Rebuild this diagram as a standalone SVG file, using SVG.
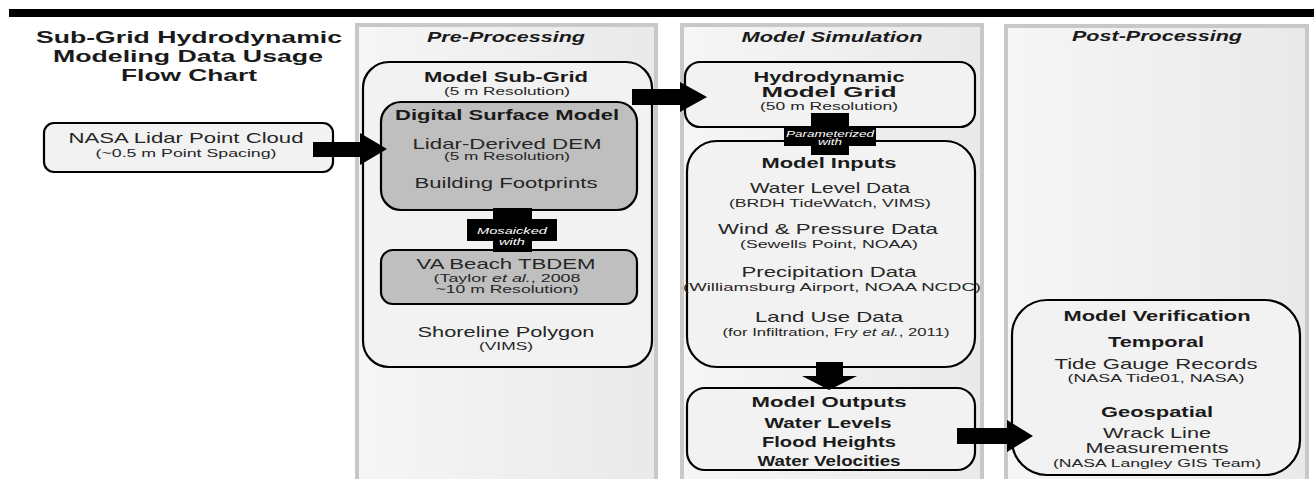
<svg xmlns="http://www.w3.org/2000/svg" width="1314" height="479" viewBox="0 0 1314 479">
<defs>
<linearGradient id="pg" x1="0" y1="0" x2="1" y2="0">
<stop offset="0" stop-color="#f6f6f6"/>
<stop offset="1" stop-color="#e9e9e9"/>
</linearGradient>
<style>
.panel{fill:url(#pg);stroke:#c8c8c8;stroke-width:4}
.box{fill:#f2f2f2;stroke:#000;stroke-width:2.2}
.gbox{fill:#bfbfbf;stroke:#000;stroke-width:2.2}
.t{font-family:"Liberation Sans",Arial,sans-serif;fill:#262626;text-anchor:middle}
.ti{font-size:16.5px;font-weight:bold;fill:#1a1a1a}
.hd{font-size:14px;font-weight:bold;font-style:italic;fill:#1a1a1a}
.bt{font-size:14px;font-weight:bold;fill:#1a1a1a}
.it{font-size:14.5px}
.sm{font-size:11.5px}
.cx{font-size:9px;font-style:italic;fill:#fff}
.arr{fill:#000}
</style>
</defs>
<rect x="9" y="9" width="1305" height="8" fill="#000"/>
<g id="title">
<text class="t ti" x="189" y="43" textLength="306" lengthAdjust="spacingAndGlyphs">Sub-Grid Hydrodynamic</text>
<text class="t ti" x="188" y="62" textLength="270" lengthAdjust="spacingAndGlyphs">Modeling Data Usage</text>
<text class="t ti" x="189" y="81" textLength="136" lengthAdjust="spacingAndGlyphs">Flow Chart</text>
</g>
<g id="panel-pre">
<rect class="panel" x="357" y="25" width="299" height="470"/>
<text class="t hd" x="506" y="42" textLength="158" lengthAdjust="spacingAndGlyphs">Pre-Processing</text>
</g>
<g id="panel-sim">
<rect class="panel" x="682" y="25" width="300" height="470"/>
<text class="t hd" x="832" y="42" textLength="181" lengthAdjust="spacingAndGlyphs">Model Simulation</text>
</g>
<g id="panel-post">
<rect class="panel" x="1006" y="26" width="301" height="470"/>
<text class="t hd" x="1157" y="41" textLength="170" lengthAdjust="spacingAndGlyphs">Post-Processing</text>
</g>
<g id="nasa-lidar">
<rect class="box" x="44" y="123" width="289" height="49" rx="10"/>
<text class="t it" x="186" y="143" textLength="235" lengthAdjust="spacingAndGlyphs">NASA Lidar Point Cloud</text>
<text class="t sm" x="186" y="157" textLength="181" lengthAdjust="spacingAndGlyphs">(~0.5 m Point Spacing)</text>
</g>
<g id="model-subgrid">
<rect class="box" x="363" y="62" width="289" height="305" rx="26"/>
<text class="t bt" x="506" y="82" textLength="164" lengthAdjust="spacingAndGlyphs">Model Sub-Grid</text>
<text class="t sm" x="507" y="95" textLength="126" lengthAdjust="spacingAndGlyphs">(5 m Resolution)</text>
<text class="t it" x="506" y="337" textLength="177" lengthAdjust="spacingAndGlyphs">Shoreline Polygon</text>
<text class="t sm" x="506" y="350" textLength="54" lengthAdjust="spacingAndGlyphs">(VIMS)</text>
</g>
<g id="digital-surface-model">
<rect class="gbox" x="381" y="102" width="256" height="108" rx="20"/>
<text class="t bt" x="507" y="120" textLength="224" lengthAdjust="spacingAndGlyphs">Digital Surface Model</text>
<text class="t it" x="507" y="149" textLength="189" lengthAdjust="spacingAndGlyphs">Lidar-Derived DEM</text>
<text class="t sm" x="507" y="160" textLength="126" lengthAdjust="spacingAndGlyphs">(5 m Resolution)</text>
<text class="t it" x="506" y="188" textLength="183" lengthAdjust="spacingAndGlyphs">Building Footprints</text>
</g>
<g id="va-beach-tbdem">
<rect class="gbox" x="381" y="250" width="256" height="54" rx="12"/>
<text class="t it" x="506" y="269" textLength="179" lengthAdjust="spacingAndGlyphs">VA Beach TBDEM</text>
<text class="t sm" x="507" y="282" textLength="147" lengthAdjust="spacingAndGlyphs">(Taylor <tspan font-style="italic">et al.</tspan>, 2008</text>
<text class="t sm" x="507" y="293" textLength="143" lengthAdjust="spacingAndGlyphs">~10 m Resolution)</text>
</g>
<g id="hydro-grid">
<rect class="box" x="685" y="62" width="290" height="65" rx="15"/>
<text class="t bt" x="829" y="82" textLength="151" lengthAdjust="spacingAndGlyphs">Hydrodynamic</text>
<text class="t bt" x="829" y="97" textLength="135" lengthAdjust="spacingAndGlyphs">Model Grid</text>
<text class="t sm" x="829" y="110" textLength="138" lengthAdjust="spacingAndGlyphs">(50 m Resolution)</text>
</g>
<g id="model-inputs">
<rect class="box" x="687" y="141" width="288" height="226" rx="30"/>
<text class="t bt" x="829" y="168" textLength="135" lengthAdjust="spacingAndGlyphs">Model Inputs</text>
<text class="t it" x="830" y="193" textLength="160" lengthAdjust="spacingAndGlyphs">Water Level Data</text>
<text class="t sm" x="830" y="207" textLength="202" lengthAdjust="spacingAndGlyphs">(BRDH TideWatch, VIMS)</text>
<text class="t it" x="828" y="234" textLength="220" lengthAdjust="spacingAndGlyphs">Wind &amp; Pressure Data</text>
<text class="t sm" x="829" y="248" textLength="178" lengthAdjust="spacingAndGlyphs">(Sewells Point, NOAA)</text>
<text class="t it" x="829" y="277" textLength="175" lengthAdjust="spacingAndGlyphs">Precipitation Data</text>
<text class="t sm" x="832" y="291" textLength="298" lengthAdjust="spacingAndGlyphs">(Williamsburg Airport, NOAA NCDC)</text>
<text class="t it" x="829" y="322" textLength="148" lengthAdjust="spacingAndGlyphs">Land Use Data</text>
<text class="t sm" x="836" y="336" textLength="227" lengthAdjust="spacingAndGlyphs">(for Infiltration,  Fry <tspan font-style="italic">et al.</tspan>, 2011)</text>
</g>
<g id="model-outputs">
<rect class="box" x="687" y="388" width="288" height="82" rx="18"/>
<text class="t bt" x="829" y="407" textLength="155" lengthAdjust="spacingAndGlyphs">Model Outputs</text>
<text class="t bt" x="828" y="428" textLength="127" lengthAdjust="spacingAndGlyphs">Water Levels</text>
<text class="t bt" x="829" y="447" textLength="134" lengthAdjust="spacingAndGlyphs">Flood Heights</text>
<text class="t bt" x="829" y="466" textLength="143" lengthAdjust="spacingAndGlyphs">Water Velocities</text>
</g>
<g id="model-verification">
<rect class="box" x="1012" y="300" width="288" height="175" rx="35"/>
<text class="t bt" x="1157" y="321" textLength="187" lengthAdjust="spacingAndGlyphs">Model Verification</text>
<text class="t bt" x="1156" y="347" textLength="96" lengthAdjust="spacingAndGlyphs">Temporal</text>
<text class="t it" x="1156" y="369" textLength="203" lengthAdjust="spacingAndGlyphs">Tide Gauge Records</text>
<text class="t sm" x="1156" y="382" textLength="177" lengthAdjust="spacingAndGlyphs">(NASA Tide01, NASA)</text>
<text class="t bt" x="1157" y="417" textLength="112" lengthAdjust="spacingAndGlyphs">Geospatial</text>
<text class="t it" x="1157" y="438" textLength="108" lengthAdjust="spacingAndGlyphs">Wrack Line</text>
<text class="t it" x="1157" y="453" textLength="143" lengthAdjust="spacingAndGlyphs">Measurements</text>
<text class="t sm" x="1157" y="467" textLength="208" lengthAdjust="spacingAndGlyphs">(NASA Langley GIS Team)</text>
</g>
<g id="connectors">
<polygon class="arr" points="313,142 360,142 360,133 387,149 360,165 360,157 313,157"/>
<polygon class="arr" points="632,89 680,89 680,82 707,97 680,112 680,105 632,105"/>
<polygon class="arr" points="957,428 1007,428 1007,420 1033,436 1007,452 1007,444 957,444"/>
<polygon class="arr" points="816,362 843,362 843,376 857,376 829,390 802,376 816,376"/>
<path class="arr" d="M493,208 H532 V219 H557 V241 H532 V252 H493 V241 H467 V219 H493 Z"/>
<text class="t cx" x="512" y="234" textLength="70" lengthAdjust="spacingAndGlyphs">Mosaicked</text>
<text class="t cx" x="512" y="245" textLength="26" lengthAdjust="spacingAndGlyphs">with</text>
<path class="arr" d="M811,113 H849 V128 H876 V146 H849 V155 H811 V146 H784 V128 H811 Z"/>
<text class="t cx" x="830" y="137" textLength="88" lengthAdjust="spacingAndGlyphs">Parameterized</text>
<text class="t cx" x="830" y="145" textLength="24" lengthAdjust="spacingAndGlyphs">with</text>
</g>
</svg>
